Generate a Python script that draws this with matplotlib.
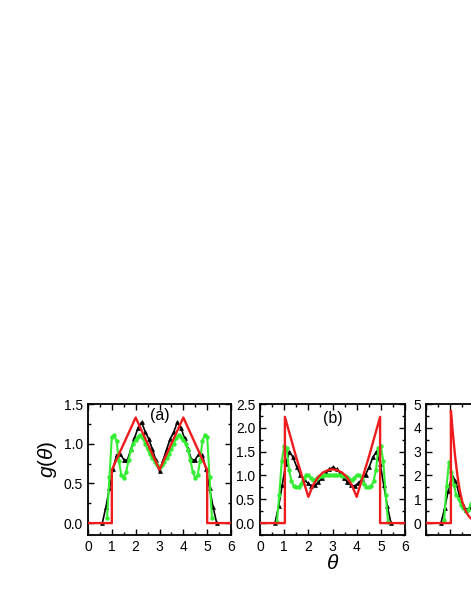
import matplotlib
matplotlib.use("Agg")
import matplotlib.pyplot as plt
from matplotlib.ticker import MultipleLocator, FormatStrFormatter

plt.rcParams['font.family'] = ['Liberation Sans', 'DejaVu Sans']
plt.rcParams['mathtext.fontset'] = 'custom'
plt.rcParams['mathtext.rm'] = 'Liberation Sans'
plt.rcParams['mathtext.it'] = 'Liberation Sans:italic'

RED = '#ee1c1c'
GREEN = '#33ee33'
BLACK = '#000000'

# ---------------- panel (a) ----------------
red_a_x = [0.0, 1.0, 1.0, 2.0, 3.0, 4.0, 5.0, 5.0, 6.0]
red_a_y = [0.0, 0.0, 0.67, 1.33, 0.67, 1.33, 0.67, 0.0, 0.0]

black_a_x = [0.60, 0.75, 0.90, 1.05, 1.20, 1.35, 1.50, 1.65, 1.80, 1.95, 2.10,
             2.25, 2.40, 2.55, 2.70, 2.85, 3.00, 3.15, 3.30, 3.45, 3.60, 3.75,
             3.90, 4.05, 4.20, 4.35, 4.50, 4.65, 4.80, 4.95, 5.10, 5.25, 5.40]
black_a_y = [0.0, 0.20, 0.44, 0.68, 0.86, 0.87, 0.80, 0.79, 0.93, 1.07, 1.20,
             1.27, 1.15, 1.06, 0.93, 0.79, 0.65, 0.79, 0.93, 1.06, 1.15, 1.27,
             1.20, 1.07, 0.93, 0.79, 0.80, 0.87, 0.86, 0.68, 0.44, 0.20, 0.0]

green_a_x = [0.8, 0.9, 1.0, 1.1, 1.2, 1.3, 1.4, 1.5, 1.6, 1.7, 1.8, 1.9, 2.0,
             2.1, 2.2, 2.3, 2.4, 2.5, 2.6, 2.7, 2.8, 2.9, 3.0, 3.1, 3.2, 3.3,
             3.4, 3.5, 3.6, 3.7, 3.8, 3.9, 4.0, 4.1, 4.2, 4.3, 4.4, 4.5, 4.6,
             4.7, 4.8, 4.9, 5.0, 5.1, 5.2]
green_a_y = [0.07, 0.58, 1.09, 1.11, 1.03, 0.78, 0.60, 0.57, 0.64, 0.79, 0.92,
             1.00, 1.05, 1.09, 1.11, 1.07, 1.00, 0.93, 0.87, 0.82, 0.77, 0.73,
             0.71, 0.73, 0.77, 0.82, 0.87, 0.93, 1.00, 1.07, 1.11, 1.09, 1.05,
             1.00, 0.92, 0.79, 0.64, 0.57, 0.60, 0.78, 1.03, 1.11, 1.09, 0.58,
             0.07]

# ---------------- panel (b) ----------------
red_b_x = [0.0, 1.03, 1.03, 1.5, 2.0, 2.2, 2.4, 2.6, 2.8, 3.0, 3.2, 3.4, 3.6,
           3.8, 4.0, 4.5, 4.97, 4.97, 6.0]
red_b_y = [0.0, 0.0, 2.23, 1.38, 0.55, 0.80, 0.96, 1.06, 1.11, 1.13, 1.11,
           1.06, 0.96, 0.80, 0.55, 1.38, 2.23, 0.0, 0.0]

black_b_x = [0.62, 0.77, 0.92, 1.07, 1.22, 1.37, 1.52, 1.67, 1.82, 1.97, 2.12,
             2.27, 2.42, 2.57, 2.72, 2.87, 3.02, 3.17, 3.32, 3.47, 3.62, 3.77,
             3.92, 4.07, 4.22, 4.37, 4.52, 4.67, 4.82, 4.97, 5.12, 5.27, 5.42]
black_b_y = [0.0, 0.35, 0.80, 1.25, 1.50, 1.38, 1.18, 1.02, 0.92, 0.84, 0.78,
             0.79, 0.86, 0.95, 1.05, 1.13, 1.17, 1.13, 1.05, 0.95, 0.86, 0.79,
             0.78, 0.84, 0.92, 1.02, 1.18, 1.38, 1.50, 1.25, 0.80, 0.35, 0.0]

green_b_x = [0.7, 0.8, 0.9, 1.0, 1.1, 1.2, 1.3, 1.4, 1.5, 1.6, 1.7, 1.8, 1.9,
             2.0, 2.1, 2.2, 2.3, 2.4, 2.5, 2.6, 2.7, 2.8, 2.9, 3.0, 3.1, 3.2,
             3.3, 3.4, 3.5, 3.6, 3.7, 3.8, 3.9, 4.0, 4.1, 4.2, 4.3, 4.4, 4.5,
             4.6, 4.7, 4.8, 4.9, 5.0, 5.1, 5.2, 5.3]
green_b_y = [0.03, 0.60, 1.30, 1.62, 1.58, 1.12, 0.88, 0.78, 0.76, 0.76, 0.82,
             0.95, 1.00, 1.00, 0.95, 0.90, 0.92, 0.96, 0.98, 0.99, 1.00, 1.00,
             1.00, 1.00, 1.00, 1.00, 1.00, 0.99, 0.98, 0.96, 0.92, 0.90, 0.95,
             1.00, 1.00, 0.95, 0.82, 0.76, 0.76, 0.78, 0.88, 1.12, 1.58, 1.62,
             1.30, 0.60, 0.03]

# ---------------- panel (c) ----------------
red_c_x = [0.0, 1.03, 1.03, 1.1, 1.2, 1.3, 1.4, 1.5, 1.6, 1.7, 1.8, 1.9, 2.0,
           2.2, 2.4]
red_c_y = [0.0, 0.0, 4.72, 3.90, 2.85, 2.00, 1.35, 0.90, 0.60, 0.40, 0.25,
           0.16, 0.10, 0.05, 0.03]

black_c_x = [0.62, 0.77, 0.92, 1.07, 1.22, 1.37, 1.52, 1.67, 1.82, 1.97, 2.12]
black_c_y = [0.0, 0.62, 1.35, 1.97, 1.78, 1.22, 0.75, 0.56, 0.66, 0.80, 0.90]

green_c_x = [0.75, 0.85, 0.95, 1.05, 1.15, 1.25, 1.35, 1.45, 1.55, 1.65, 1.75,
             1.85, 1.95, 2.05]
green_c_y = [0.12, 1.55, 2.55, 2.15, 1.60, 1.20, 1.00, 0.78, 0.62, 0.50, 0.55,
             0.80, 1.00, 1.10]

panels = [
    dict(red=(red_a_x, red_a_y), black=(black_a_x, black_a_y),
         green=(green_a_x, green_a_y), ylim=(-0.15, 1.5), ymaj=0.5, ymin=0.25,
         fmt='%.1f', label='(a)', lpos=(3.0, 1.36), xlabels=True,
         rect=[88 / 471, 1 - 535 / 609, 143 / 471, 131 / 609]),
    dict(red=(red_b_x, red_b_y), black=(black_b_x, black_b_y),
         green=(green_b_x, green_b_y), ylim=(-0.25, 2.5), ymaj=0.5, ymin=0.25,
         fmt='%.1f', label='(b)', lpos=(3.0, 2.2), xlabels=True,
         rect=[260 / 471, 1 - 535 / 609, 145 / 471, 131 / 609]),
    dict(red=(red_c_x, red_c_y), black=(black_c_x, black_c_y),
         green=(green_c_x, green_c_y), ylim=(-0.5, 5.0), ymaj=1.0, ymin=0.5,
         fmt='%d', label=None, lpos=None, xlabels=False,
         rect=[426 / 471, 1 - 535 / 609, 145 / 471, 131 / 609]),
]

fig = plt.figure(figsize=(4.71, 6.09), dpi=100)

axes = []
for p in panels:
    ax = fig.add_axes(p['rect'])
    axes.append(ax)
    ax.plot(*p['black'], color=BLACK, lw=1.2, marker='^', ms=2.8,
            markeredgewidth=0.5, zorder=2)
    ax.plot(*p['green'], color=GREEN, lw=1.5, marker='o', ms=3.2,
            markeredgewidth=0.0, zorder=3)
    ax.plot(*p['red'], color=RED, lw=1.7, zorder=4)
    ax.set_xlim(0, 6)
    ax.set_ylim(*p['ylim'])
    ax.xaxis.set_major_locator(MultipleLocator(1))
    ax.xaxis.set_minor_locator(MultipleLocator(0.5))
    ax.yaxis.set_major_locator(MultipleLocator(p['ymaj']))
    ax.yaxis.set_minor_locator(MultipleLocator(p['ymin']))
    ax.yaxis.set_major_formatter(FormatStrFormatter(p['fmt']))
    ax.tick_params(which='both', direction='in', top=True, right=True,
                   labelsize=10, width=1.0)
    ax.tick_params(which='major', length=4.5, pad=3.5)
    ax.tick_params(which='minor', length=2.5)
    if not p['xlabels']:
        ax.tick_params(axis='x', labelbottom=False)
    for s in ax.spines.values():
        s.set_linewidth(1.3)
    if p['label']:
        ax.text(p['lpos'][0], p['lpos'][1], p['label'], fontsize=11.5,
                ha='center', va='center')

axes[0].set_ylabel(r'$g(\theta)$', fontsize=15)
axes[0].yaxis.set_label_coords(-0.205, 0.58)
axes[1].set_xlabel(r'$\theta$', fontsize=15, labelpad=0)

fig.savefig('out.png', dpi=100)
